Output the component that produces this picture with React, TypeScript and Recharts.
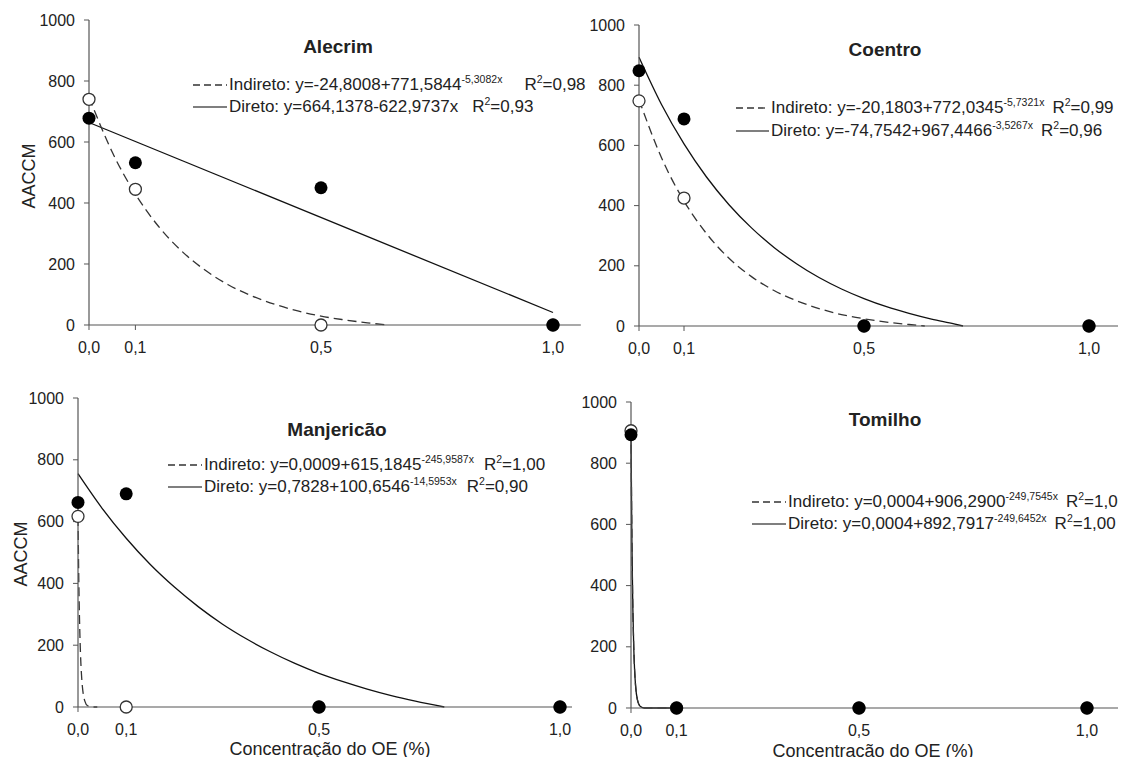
import { ComposedChart, Line, Scatter, XAxis, YAxis } from 'recharts'

const FONT = '"Liberation Sans", Arial, sans-serif'

// concentration levels (%), shared by all four panels
const xConc = [0, 0.1, 0.5, 1.0]
const xTicks = [0, 0.1, 0.5, 1.0]
const xTickLabels = ['0,0', '0,1', '0,5', '1,0']
const yTicks = [0, 200, 400, 600, 800, 1000]

// observed AACCM
const alecrimIndObs = [740, 445, 0, 0]
const alecrimDirObs = [678, 532, 450, 0]
const coentroIndObs = [748, 425, 0, 0]
const coentroDirObs = [848, 688, 0, 0]
const manjIndObs = [617, 0, 0, 0]
const manjDirObs = [662, 690, 0, 0]
const tomilhoIndObs = [906, 0, 0, 0]
const tomilhoDirObs = [893, 0, 0, 0]

// fitted curves
const alecrimIndFitX = [0, 0.05, 0.1, 0.15, 0.2, 0.25, 0.3, 0.35, 0.4, 0.45, 0.5, 0.55, 0.6, 0.645]
const alecrimIndFitY = [747, 567, 429, 323, 242, 180, 132, 96, 68, 46, 29, 17, 7, 0]
const alecrimDirFitX = [0, 1.0]
const alecrimDirFitY = [664, 41]

const coentroIndFitX = [0, 0.05, 0.1, 0.15, 0.2, 0.25, 0.3, 0.35, 0.4, 0.45, 0.5, 0.55, 0.6, 0.635]
const coentroIndFitY = [752, 559, 415, 307, 225, 164, 118, 84, 58, 38, 24, 13, 5, 0]
const coentroDirFitX = [0, 0.05, 0.1, 0.15, 0.2, 0.25, 0.3, 0.35, 0.4, 0.45, 0.5, 0.55, 0.6, 0.65, 0.7, 0.72]
const coentroDirFitY = [893, 736, 605, 495, 403, 326, 261, 207, 161, 123, 91, 64, 42, 23, 7, 0]

const manjIndFitX = [0, 0.002, 0.004, 0.006, 0.008, 0.01, 0.014, 0.02, 0.03, 0.04]
const manjIndFitY = [615, 376, 230, 141, 86, 53, 20, 4, 0, 0]
const manjDirFitX = [0, 0.05, 0.1, 0.15, 0.2, 0.25, 0.3, 0.35, 0.4, 0.45, 0.5, 0.55, 0.6, 0.65, 0.7, 0.76]
const manjDirFitY = [755, 643, 546, 461, 388, 324, 268, 220, 178, 141, 109, 82, 58, 37, 19, 0]

const tomilhoFitX = [0, 0.002, 0.004, 0.006, 0.008, 0.01, 0.014, 0.02, 0.03, 0.05, 0.1]
const tomilhoIndFitY = [906, 550, 333, 202, 123, 75, 27, 6, 0, 0, 0]
const tomilhoDirFitY = [893, 542, 329, 199, 121, 73, 27, 6, 0, 0, 0]

type Pt = { x: number; y: number }
const zip = (xs: number[], ys: number[]): Pt[] => xs.map((x, i) => ({ x, y: ys[i] }))

interface LegendRow {
  dashed: boolean
  text: string
  sup: string
  gap: number
  r2: string
}

interface PanelSpec {
  title: string
  titleX: number
  titleY: number
  plotLeft: number
  plotTop: number
  plotH: number
  unit: number
  xMax: number
  indFit: Pt[]
  dirFit: Pt[]
  indObs: Pt[]
  dirObs: Pt[]
  legendX: number
  legendLineW: number
  legendY: number[]
  legend: LegendRow[]
}

const panels: PanelSpec[] = [
  {
    title: 'Alecrim', titleX: 338, titleY: 47,
    plotLeft: 89, plotTop: 20, plotH: 305, unit: 464, xMax: 1.06,
    indFit: zip(alecrimIndFitX, alecrimIndFitY), dirFit: zip(alecrimDirFitX, alecrimDirFitY),
    indObs: zip(xConc, alecrimIndObs), dirObs: zip(xConc, alecrimDirObs),
    legendX: 193, legendLineW: 34, legendY: [85, 107],
    legend: [
      { dashed: true, text: 'Indireto: y=-24,8008+771,5844', sup: '-5,3082x', gap: 22, r2: '=0,98' },
      { dashed: false, text: 'Direto: y=664,1378-622,9737x', sup: '', gap: 14, r2: '=0,93' },
    ],
  },
  {
    title: 'Coentro', titleX: 885, titleY: 50,
    plotLeft: 639, plotTop: 25, plotH: 301, unit: 450, xMax: 1.065,
    indFit: zip(coentroIndFitX, coentroIndFitY), dirFit: zip(coentroDirFitX, coentroDirFitY),
    indObs: zip(xConc, coentroIndObs), dirObs: zip(xConc, coentroDirObs),
    legendX: 736, legendLineW: 33, legendY: [108, 131],
    legend: [
      { dashed: true, text: 'Indireto: y=-20,1803+772,0345', sup: '-5,7321x', gap: 8, r2: '=0,99' },
      { dashed: false, text: 'Direto: y=-74,7542+967,4466', sup: '-3,5267x', gap: 8, r2: '=0,96' },
    ],
  },
  {
    title: 'Manjericão', titleX: 337, titleY: 430,
    plotLeft: 78, plotTop: 398, plotH: 309, unit: 482, xMax: 1.025,
    indFit: zip(manjIndFitX, manjIndFitY), dirFit: zip(manjDirFitX, manjDirFitY),
    indObs: zip(xConc, manjIndObs), dirObs: zip(xConc, manjDirObs),
    legendX: 168, legendLineW: 34, legendY: [465, 487],
    legend: [
      { dashed: true, text: 'Indireto: y=0,0009+615,1845', sup: '-245,9587x', gap: 10, r2: '=1,00' },
      { dashed: false, text: 'Direto: y=0,7828+100,6546', sup: '-14,5953x', gap: 10, r2: '=0,90' },
    ],
  },
  {
    title: 'Tomilho', titleX: 885, titleY: 420,
    plotLeft: 631, plotTop: 402, plotH: 306, unit: 456, xMax: 1.09,
    indFit: zip(tomilhoFitX, tomilhoIndFitY), dirFit: zip(tomilhoFitX, tomilhoDirFitY),
    indObs: zip(xConc, tomilhoIndObs), dirObs: zip(xConc, tomilhoDirObs),
    legendX: 752, legendLineW: 34, legendY: [502, 524],
    legend: [
      { dashed: true, text: 'Indireto: y=0,0004+906,2900', sup: '-249,7545x', gap: 8, r2: '=1,00' },
      { dashed: false, text: 'Direto: y=0,0004+892,7917', sup: '-249,6452x', gap: 8, r2: '=1,00' },
    ],
  },
]

const AXIS = '#555'
const INK = '#222'

const FilledDot = (props: any) => <circle cx={props.cx} cy={props.cy} r={6.5} fill="#000" />
const OpenDot = (props: any) => (
  <circle cx={props.cx} cy={props.cy} r={6} fill="#fff" stroke="#333" strokeWidth={1.3} />
)

function Panel({ p }: { p: PanelSpec }) {
  const ML = 70
  const MT = 10
  const MR = 5
  const XH = 45
  const plotW = p.unit * p.xMax
  const W = ML + plotW + MR
  const H = MT + p.plotH + XH
  const tick = { fill: INK, fontSize: 16, fontFamily: FONT }
  return (
    <div style={{ position: 'absolute', left: p.plotLeft - ML, top: p.plotTop - MT }}>
      <ComposedChart width={W} height={H} margin={{ top: MT, right: MR, bottom: 0, left: 10 }}>
        <XAxis
          type="number"
          dataKey="x"
          domain={[0, p.xMax]}
          ticks={xTicks}
          tickFormatter={(v: number) => xTickLabels[xTicks.indexOf(v)] ?? ''}
          height={XH}
          tick={tick}
          tickSize={5}
          tickMargin={12}
          axisLine={{ stroke: AXIS, strokeWidth: 1.2 }}
          tickLine={{ stroke: AXIS }}
        />
        <YAxis
          type="number"
          dataKey="y"
          domain={[0, 1000]}
          ticks={yTicks}
          width={60}
          tick={tick}
          tickSize={5}
          tickMargin={9}
          axisLine={{ stroke: AXIS, strokeWidth: 1.2 }}
          tickLine={{ stroke: AXIS }}
        />
        <Line
          data={p.dirFit}
          dataKey="y"
          type="monotone"
          stroke="#111"
          strokeWidth={1.3}
          dot={false}
          activeDot={false}
          isAnimationActive={false}
        />
        <Line
          data={p.indFit}
          dataKey="y"
          type="monotone"
          stroke="#333"
          strokeWidth={1.3}
          strokeDasharray="9 5"
          dot={false}
          activeDot={false}
          isAnimationActive={false}
        />
        <Scatter data={p.indObs} dataKey="y" shape={OpenDot} isAnimationActive={false} />
        <Scatter data={p.dirObs} dataKey="y" shape={FilledDot} isAnimationActive={false} />
      </ComposedChart>
    </div>
  )
}

function Legend({ p }: { p: PanelSpec }) {
  const sup: React.CSSProperties = { fontSize: 10.5, position: 'relative', top: -7 }
  return (
    <>
      {p.legend.map((row, i) => (
        <div
          key={i}
          style={{
            position: 'absolute',
            left: p.legendX,
            top: p.legendY[i] - 11,
            height: 22,
            display: 'flex',
            alignItems: 'center',
            whiteSpace: 'nowrap',
            fontSize: 17,
            color: INK,
          }}
        >
          <svg width={p.legendLineW} height={22} style={{ display: 'block' }}>
            <line
              x1={0}
              y1={11}
              x2={p.legendLineW}
              y2={11}
              stroke={row.dashed ? '#333' : '#555'}
              strokeWidth={1.3}
              strokeDasharray={row.dashed ? '7 4' : undefined}
            />
          </svg>
          <span style={{ marginLeft: 2 }}>
            {row.text}
            {row.sup && <span style={sup}>{row.sup}</span>}
            <span style={{ marginLeft: row.gap }}>
              R<span style={sup}>2</span>
              {row.r2}
            </span>
          </span>
        </div>
      ))}
    </>
  )
}

const centered: React.CSSProperties = {
  position: 'absolute',
  transform: 'translate(-50%, -50%)',
  whiteSpace: 'nowrap',
  color: INK,
}

export default function App() {
  return (
    <div
      style={{
        position: 'relative',
        width: 1126,
        height: 765,
        margin: -8,
        background: '#fff',
        overflow: 'hidden',
        fontFamily: FONT,
      }}
    >
      {panels.map((p) => (
        <Panel key={p.title} p={p} />
      ))}
      {panels.map((p) => (
        <Legend key={'lg' + p.title} p={p} />
      ))}
      {panels.map((p) => (
        <div key={'t' + p.title} style={{ ...centered, left: p.titleX, top: p.titleY, fontSize: 19, fontWeight: 'bold' }}>
          {p.title}
        </div>
      ))}
      <div style={{ ...centered, left: 29, top: 176, fontSize: 18, transform: 'translate(-50%, -50%) rotate(-90deg)' }}>
        AACCM
      </div>
      <div style={{ ...centered, left: 21, top: 554, fontSize: 18, transform: 'translate(-50%, -50%) rotate(-90deg)' }}>
        AACCM
      </div>
      <div style={{ ...centered, left: 330, top: 749, fontSize: 18 }}>Concentração do OE (%)</div>
      <div style={{ ...centered, left: 873, top: 751, fontSize: 18 }}>Concentração do OE (%)</div>
    </div>
  )
}
